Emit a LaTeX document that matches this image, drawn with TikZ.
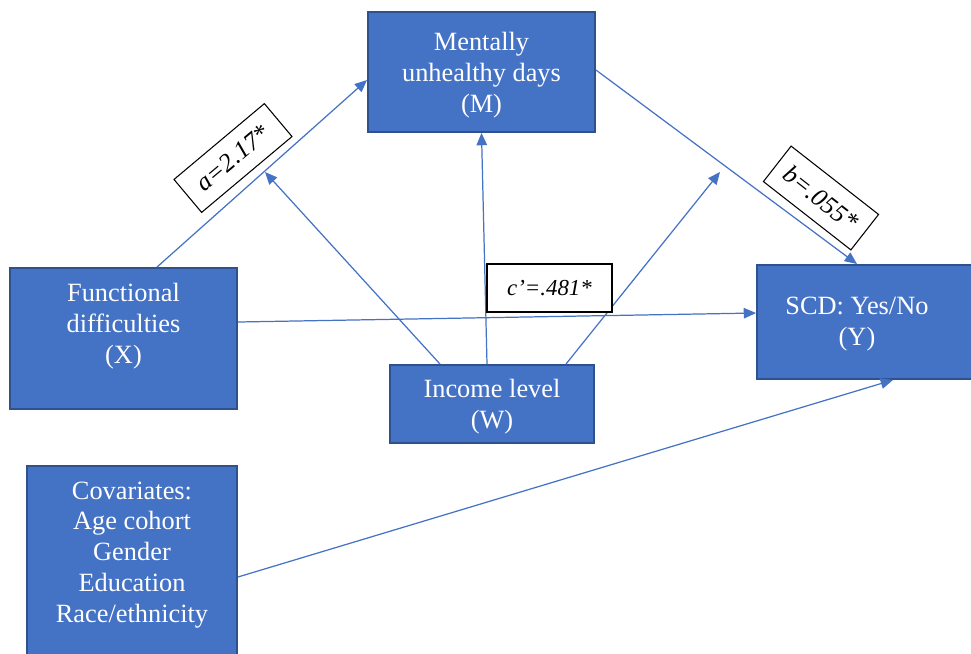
\documentclass[tikz,border=0pt]{standalone}
\usepackage{fontspec}
\setmainfont{Liberation Serif}
\usetikzlibrary{arrows.meta, positioning}
\definecolor{boxblue}{HTML}{4472C4}
\definecolor{boxedge}{HTML}{2F528F}
\begin{document}
\begin{tikzpicture}[x=0.02cm, y=-0.02cm, every node/.style={font=\fontsize{15}{17.6}\selectfont}]
\tikzset{vbox/.style={draw=boxedge, line width=1.1pt, fill=boxblue, inner sep=0pt},
  vtxt/.style={text=white, align=center, inner sep=0pt},
  coef/.style={draw, fill=white, line width=0.6pt, inner sep=0pt, font=\fontsize{13}{15}\selectfont\itshape},
  link/.style={-{Triangle[length=7pt, width=6pt]}, draw=boxblue, line width=0.7pt}}
\useasboundingbox (0,0) rectangle (971,653);
% boxes
\node[vbox, minimum width=4.54cm, minimum height=2.4cm] (M) at (481.5,72) {};
\node[vbox, minimum width=4.54cm, minimum height=2.82cm] (X) at (123.5,338.5) {};
\node[vbox, minimum width=4.56cm, minimum height=2.28cm] (Y) at (871,322) {};
\node[vbox, minimum width=4.08cm, minimum height=1.56cm] (W) at (492,404) {};
\node[vbox, minimum width=4.2cm, minimum height=4.08cm] (C) at (132,568) {};
\node[vtxt] (Mt) at (481.5,75) {Mentally\\ unhealthy days\\ (M)};
\node[vtxt] (Xt) at (123.5,326) {Functional\\ difficulties\\ (X)};
\node[vtxt] (Yt) at (857,324) {SCD: Yes/No\\ (Y)};
\node[vtxt] (Wt) at (492,407) {Income level\\ (W)};
\node[vtxt] (Ct) at (132,555) {Covariates:\\ Age cohort\\ Gender\\ Education\\ Race/ethnicity};
\coordinate (pa) at (265,172);
\coordinate (pb) at (720,172);
% paths
\draw[link] ([xshift=0.67cm]X.north) -- ([yshift=-0.16cm]M.west);
\draw[link] ([yshift=0.33cm]X.east) -- ([yshift=0.18cm]Y.west);
\draw[link] ([yshift=0.04cm]M.east) -- ([xshift=-0.28cm]Y.north);
\draw[link] ([xshift=-0.1cm]W.north) -- (M.south);
\draw[link] ([xshift=-1.04cm]W.north) -- (pa);
\draw[link] ([xshift=1.48cm]W.north) -- (pb);
\draw[link] ([yshift=-0.18cm]C.east) -- ([xshift=0.44cm]Y.south);
% coefficients
\node[coef, font=\fontsize{14.5}{16}\selectfont\itshape, minimum width=2.36cm, minimum height=0.86cm, rotate=40] (ca) at (233,158) {a=2.17*};
\node[coef, font=\fontsize{14.5}{16}\selectfont\itshape, minimum width=2.22cm, minimum height=0.9cm, rotate=-38] (cb) at (821,198) {b=.055*};
\node[coef, minimum width=2.5cm, minimum height=0.96cm] (cc) at (549.5,288) {c’=.481*};
\end{tikzpicture}
\end{document}
